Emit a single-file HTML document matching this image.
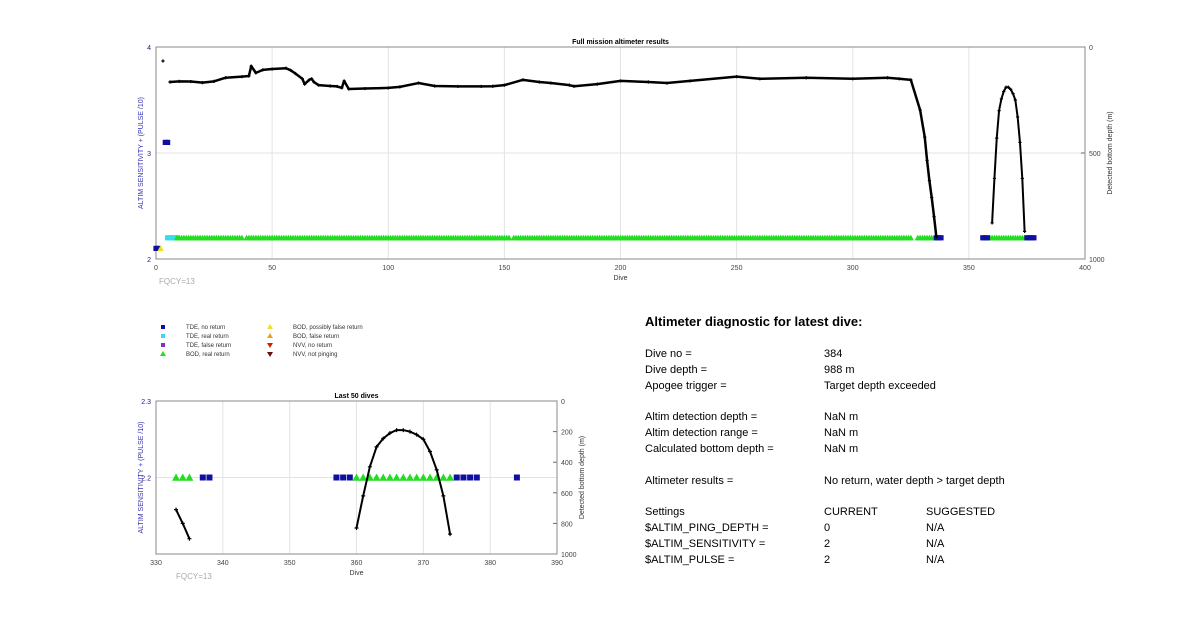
<!DOCTYPE html>
<html><head><meta charset="utf-8"><style>
body{margin:0;background:#fff;width:1200px;height:622px;overflow:hidden;font-family:"Liberation Sans",Arial,sans-serif}
svg text{font-family:"Liberation Sans",Arial,sans-serif}
.diag{position:absolute;left:645px;top:312px;font-size:11px;color:#000}
.diag div{position:absolute;white-space:nowrap}
</style></head><body>
<svg id="chart" width="1200" height="622" style="position:absolute;left:0;top:0"></svg>
<div class="diag">
<div style="left:0;top:2px;font-size:13px;font-weight:bold">Altimeter diagnostic for latest dive:</div>
<div style="left:0;top:36px">Dive no =</div><div style="left:179px;top:36px">384</div>
<div style="left:0;top:52px">Dive depth =</div><div style="left:179px;top:52px">988 m</div>
<div style="left:0;top:68px">Apogee trigger =</div><div style="left:179px;top:68px">Target depth exceeded</div>
<div style="left:0;top:99px">Altim detection depth =</div><div style="left:179px;top:99px">NaN m</div>
<div style="left:0;top:115px">Altim detection range =</div><div style="left:179px;top:115px">NaN m</div>
<div style="left:0;top:131px">Calculated bottom depth =</div><div style="left:179px;top:131px">NaN m</div>
<div style="left:0;top:163px">Altimeter results =</div><div style="left:179px;top:163px">No return, water depth &gt; target depth</div>
<div style="left:0;top:194px">Settings</div><div style="left:179px;top:194px">CURRENT</div><div style="left:281px;top:194px">SUGGESTED</div>
<div style="left:0;top:210px">$ALTIM_PING_DEPTH =</div><div style="left:179px;top:210px">0</div><div style="left:281px;top:210px">N/A</div>
<div style="left:0;top:226px">$ALTIM_SENSITIVITY =</div><div style="left:179px;top:226px">2</div><div style="left:281px;top:226px">N/A</div>
<div style="left:0;top:242px">$ALTIM_PULSE =</div><div style="left:179px;top:242px">2</div><div style="left:281px;top:242px">N/A</div>
</div>
<script>
// full mission depth series (dive, detected bottom depth m)
const depthDives0 = [3];
const depthVals0  = [66];
const depthDives1 = [6,10,15,20,25,30,37,40,41,43,46,50,56,58,60,63,64,66,67,68,70,75,78,80,81,83,90,100,105,113,120,130,140,145,150,158,165,170,178,180,190,200,212,220,230,250,260,280,300,315,320,325,329,331,332,333,334,335,336];
const depthVals1  = [165,162,163,168,162,145,140,137,90,122,108,104,100,110,125,150,175,155,150,165,180,184,186,193,160,198,196,193,188,170,184,186,186,185,180,155,165,170,180,185,175,160,165,170,160,140,150,145,150,145,150,155,297,425,535,630,710,800,896];
const depthDives2 = [360,361,362,363,364,365,366,367,368,369,370,371,372,373,374];
const depthVals2  = [830,620,430,300,245,210,190,190,200,220,250,330,450,620,870];
const depthDives3 = [333,334,335];
const depthVals3  = [710,800,900];
// marker categories: [startDive, endDive, sensitivity value]
const bodRealRanges = [[9,37,2.2],[39,152,2.2],[154,325,2.2],[328,335,2.2],[359,374,2.2]];
const tdeNoReturnRanges = [[0,1,2.1],[4,5,3.1],[336,338,2.2],[356,358,2.2],[375,378,2.2]];
const tdeRealRanges = [[5,9,2.2]];
const bodPossFalse = [[2,2,2.1]];
// last 50 dives markers
const bodReal50 = [[333,335,2.2],[360,374,2.2]];
const tdeNoReturn50 = [[337,338,2.2],[357,359,2.2],[375,378,2.2],[384,384,2.2]];
const xTicks1=[0,50,100,150,200,250,300,350,400], yTicks1=[2,3,4], dTicks1=[0,500,1000];
const xTicks2=[330,340,350,360,370,380,390], yTicks2=[2.2,2.3], dTicks2=[0,200,400,600,800,1000];

const svg=document.getElementById('chart'),NS='http://www.w3.org/2000/svg';
function el(t,a,p){const e=document.createElementNS(NS,t);for(const k in a)e.setAttribute(k,a[k]);(p||svg).appendChild(e);return e;}
function txt(s,a,p){const e=el('text',a,p);e.textContent=s;return e;}

function axes(o){
  const g=el('g',{});
  
  
  const X=d=>o.x0+(d-o.xmin)/(o.xmax-o.xmin)*(o.x1-o.x0);
  const Y=v=>o.y1-(v-o.ymin)/(o.ymax-o.ymin)*(o.y1-o.y0);
  const D=v=>o.y0+v/1000*(o.y1-o.y0);
  o.xt.forEach(t=>{const l=el('line',{x1:X(t),x2:X(t),y1:o.y0,y2:o.y1,stroke:'#e3e3e3','stroke-width':1},g);
    const tl=txt(t,{x:X(t),y:o.y1+11,'font-size':7,'text-anchor':'middle',fill:'#444'},g);});
  o.yt.forEach(t=>{if(t!=o.ymin&&t!=o.ymax){el('line',{x1:o.x0,x2:o.x1,y1:Y(t),y2:Y(t),stroke:'#e3e3e3'},g);}
    const tl=txt(t,{x:o.x0-5,y:Y(t)+3,'font-size':7,'text-anchor':'end',fill:'#1a1a8c'},g);});
  o.dt.forEach(t=>{el('line',{x1:o.x1,x2:o.x1-4,y1:D(t),y2:D(t),stroke:'#666'},g);
    const tl=txt(t,{x:o.x1+4,y:D(t)+3,'font-size':7,fill:'#444'},g);});
  el('rect',{x:o.x0,y:o.y0,width:o.x1-o.x0,height:o.y1-o.y0,fill:'none',stroke:'#888','stroke-width':1},g);
  const tt=txt(o.title,{x:(o.x0+o.x1)/2,y:o.y0-3,'font-size':7,'font-weight':'bold','text-anchor':'middle'},g);
  const xl=txt('Dive',{x:(o.x0+o.x1)/2,y:o.y1+21,'font-size':7,'text-anchor':'middle',fill:'#333'},g);
  const cy=(o.y0+o.y1)/2;
  const yl=txt('ALTIM SENSITIVITY + (PULSE /10)',{x:o.x0-13,y:cy,'font-size':7,'text-anchor':'middle',fill:'#3535b0',transform:`rotate(-90 ${o.x0-13} ${cy})`},g);
  const dl=txt('Detected bottom depth (m)',{x:o.x1+27,y:cy,'font-size':7,'text-anchor':'middle',fill:'#333',transform:`rotate(-90 ${o.x1+27} ${cy})`},g);
  const fq=txt('FQCY=13',{x:o.x0+o.fqx,y:o.y1+25,'font-size':8,fill:'#aaa'},g);
  return {g,X,Y,D};
}
function inRange(d,o){return d>=o.xmin&&d<=o.xmax;}
function markers(ax,o,ranges,shape,color,s,name){
  ranges.forEach(r=>{for(let d=r[0];d<=r[1];d++){if(!inRange(d,o))continue;const x=ax.X(d),y=ax.Y(r[2]);let m;
    if(shape==='sq')m=el('rect',{x:x-s,y:y-s,width:2*s,height:2*s,fill:color},ax.g);
    else m=el('polygon',{points:`${x},${y-s*1.2} ${x-s*1.2},${y+s} ${x+s*1.2},${y+s}`,fill:color},ax.g);
    }});
}
function line(ax,o,ds,vs,s,w){
  const pts=ds.map((d,i)=>[ax.X(d),ax.D(vs[i])]).filter((p,i)=>inRange(ds[i],o));
  if(pts.length>1){const p=el('polyline',{points:pts.map(p=>p.join(',')).join(' '),fill:'none',stroke:'#000','stroke-width':w,'stroke-linejoin':'round'},ax.g);}
  pts.forEach(p=>{const m=el('path',{d:`M${p[0]-s},${p[1]}h${2*s}M${p[0]},${p[1]-s}v${2*s}`,stroke:'#000','stroke-width':1.2},ax.g);});
}
const o1={name:'full-mission-chart',title:'Full mission altimeter results',x0:156,x1:1085,y0:47,y1:259,xmin:0,xmax:400,ymin:2,ymax:4,xt:xTicks1,yt:yTicks1,dt:dTicks1,fqx:3};
const a1=axes(o1);
markers(a1,o1,tdeRealRanges,'sq','#33ddee',2.6,'tde-real-return');
markers(a1,o1,bodRealRanges,'tri','#22dd22',2.6,'bod-real-return');
markers(a1,o1,tdeNoReturnRanges,'sq','#1010a0',2.6,'tde-no-return');
markers(a1,o1,bodPossFalse,'tri','#f0e020',2.6,'bod-possibly-false');
line(a1,o1,depthDives0,depthVals0,1.6,2.5);
line(a1,o1,depthDives1,depthVals1,1.6,2.5);
line(a1,o1,depthDives2,depthVals2,1.6,2);

const o2={name:'last-50-chart',title:'Last 50 dives',x0:156,x1:557,y0:401,y1:554,xmin:330,xmax:390,ymin:2.1,ymax:2.3,xt:xTicks2,yt:yTicks2,dt:dTicks2,fqx:20};
const a2=axes(o2);
markers(a2,o2,bodReal50,'tri','#22dd22',3.3,'bod-real-return');
markers(a2,o2,tdeNoReturn50,'sq','#1010a0',3,'tde-no-return');
line(a2,o2,depthDives3,depthVals3,2,2);
line(a2,o2,depthDives2,depthVals2,2,2);
// legend
const legItems=[['sq','#1010a0','TDE, no return',163,327],['sq','#33ddee','TDE, real return',163,336],['sq','#7733cc','TDE, false return',163,345],['tri','#22dd22','BOD, real return',163,354],
['tri','#f0e020','BOD, possibly false return',270,327],['tri','#f0a020','BOD, false return',270,336],['dn','#cc2200','NVV, no return',270,345],['dn','#661010','NVV, not pinging',270,354]];
const lg=el('g',{});
legItems.forEach(it=>{const [sh,c,l,x,y]=it;let m;
 if(sh==='sq')m=el('rect',{x:x-2,y:y-2,width:4,height:4,fill:c},lg);
 else if(sh==='tri')m=el('polygon',{points:`${x},${y-3} ${x-3},${y+2} ${x+3},${y+2}`,fill:c},lg);
 else m=el('polygon',{points:`${x},${y+3} ${x-3},${y-2} ${x+3},${y-2}`,fill:c},lg);
 
 const t=txt(l,{x:x+23,y:y+2,'font-size':6,fill:'#333'},lg);});
</script>
</body></html>
